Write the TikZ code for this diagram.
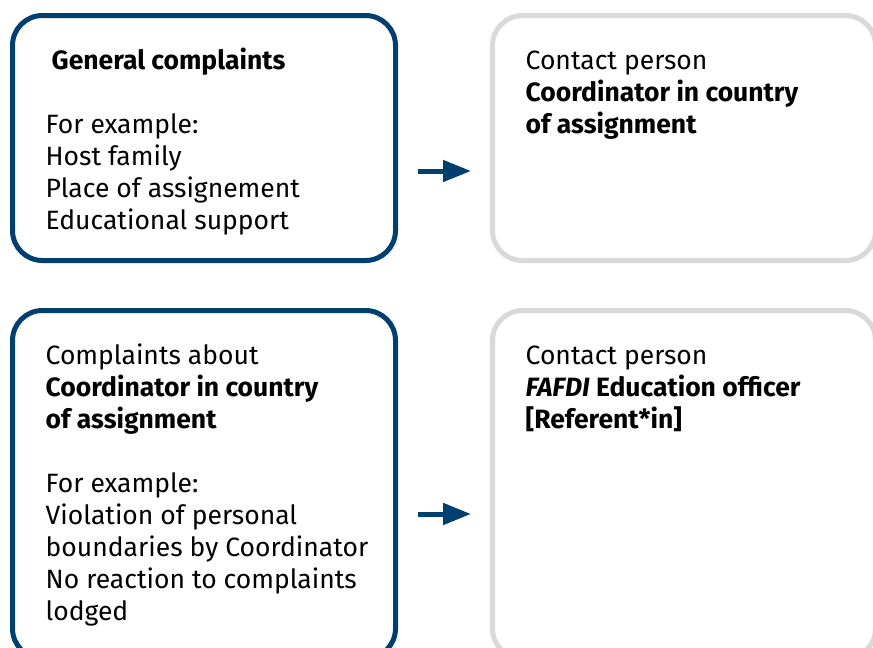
\documentclass[tikz,border=0pt]{standalone}
\usepackage{fontspec}
\setmainfont{Fira Sans}
\usetikzlibrary{arrows.meta}
\definecolor{fafdiblue}{HTML}{003F6E}
\definecolor{fafdigrey}{HTML}{D9D9D9}

\begin{document}
\begin{tikzpicture}[x=1pt, y=-1pt, >={Triangle[length=28pt, width=21pt]},
    complaint/.style={draw=fafdiblue, line width=5pt, rounded corners=30pt,
      minimum width=383pt, inner sep=0pt},
    contact/.style={draw=fafdigrey, line width=5pt, rounded corners=30pt,
      minimum width=383pt, inner sep=0pt},
    boxtext/.style={anchor=north west, align=left, inner sep=0pt,
      font=\fontsize{26.5}{32}\selectfont}]
  \useasboundingbox (0,0) rectangle (873,648);
  \clip (0,0) rectangle (873,648);

  % Kästen oben
  \node[complaint, minimum height=245pt] (general) at (204,138) {};
  \node[contact, minimum height=245pt] (coordinator) at (684,138) {};

  % Kästen unten
  \node[complaint, minimum height=348pt] (aboutcoord) at (204,484.5) {};
  \node[contact, minimum height=348pt] (officer) at (684,484.5) {};

  % Texte (erste Grundlinie ca. 56 unter Oberkante)
  \node[boxtext] (generaltxt) at ([shift={(35.5,33.6)}]general.north west)
    {\strut\hspace*{6pt}\textbf{General complaints}\\[32pt]
     For example:\\ Host family\\ Place of assignement\\ Educational support};
  \node[boxtext] (coordtxt) at ([shift={(35.5,33.6)}]coordinator.north west)
    {\strut Contact person\\ \textbf{Coordinator in country}\\ \textbf{of assignment}};
  \node[boxtext] (abouttxt) at ([shift={(35.5,33.6)}]aboutcoord.north west)
    {\strut Complaints about\\ \textbf{Coordinator in country}\\ \textbf{of assignment}\\[32pt]
     For example:\\ Violation of personal\\ boundaries by Coordinator\\
     No reaction to complaints\\ lodged};
  \node[boxtext] (officertxt) at ([shift={(35.5,33.6)}]officer.north west)
    {\strut Contact person\\ \textbf{\textit{FAFDI} Education officer}\\ \textbf{[Referent*in]}};

  % Pfeile
  \draw[->, draw=fafdiblue, fill=fafdiblue, line width=5pt]
    ([shift={(19.5,33)}]general.east) -- ([shift={(-19,33)}]coordinator.west);
  \draw[->, draw=fafdiblue, fill=fafdiblue, line width=5pt]
    ([shift={(19.5,29.5)}]aboutcoord.east) -- ([shift={(-19,29.5)}]officer.west);
\end{tikzpicture}
\end{document}
